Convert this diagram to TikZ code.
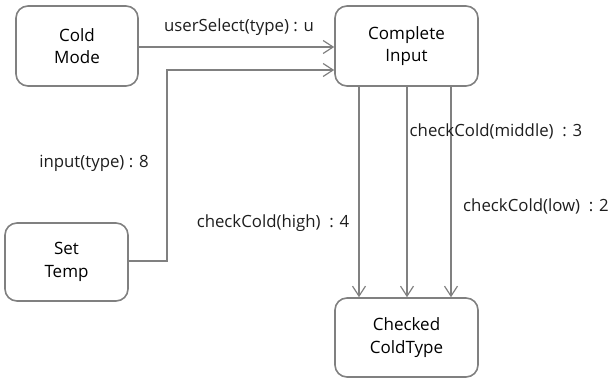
\documentclass[tikz,border=0pt]{standalone}
\usepackage{fontspec}
\setmainfont{Open Sans}
\usetikzlibrary{arrows.meta,positioning}
\definecolor{edgegray}{RGB}{128,128,128}
\definecolor{labelink}{RGB}{30,30,30}
\tikzset{
  statebox/.style={draw=edgegray, line width=1.6pt, rounded corners=12pt,
    fill=white, align=center, inner sep=0pt, font=\fontsize{17}{22.5}\selectfont},
  flow/.style={draw=edgegray, line width=1.2pt,
    -{Straight Barb[length=10pt,width=13pt,line width=1.2pt]}},
  edgelabel/.style={text=labelink, inner sep=0pt, font=\fontsize{16.8}{20}\selectfont}
}
\begin{document}
\begin{tikzpicture}[x=1pt,y=-1pt]
  \useasboundingbox (0,0) rectangle (611,378);

  % states
  \node[statebox, minimum width=122pt, minimum height=80pt] (cold) at (77,46) {Cold\\Mode};
  \node[statebox, minimum width=143pt, minimum height=80pt] (complete) at (406.5,46) {Complete\\Input};
  \node[statebox, minimum width=123pt, minimum height=78pt] (settemp) at (66.5,262) {Set\\Temp};
  \node[statebox, minimum width=143pt, minimum height=79pt] (checked) at (406.5,337.5) {Checked\\ColdType};

  % bend point for the set-temp transition
  \coordinate (bend) at (167,70);

  % transitions
  \draw[flow] (cold.east |- 0,47) -- (complete.west |- 0,47);
  \draw[flow] (settemp.east |- 0,261) -| (bend) -- (complete.west |- bend);
  \draw[flow] (complete.south -| 359,0) -- (checked.north -| 359,0);
  \draw[flow] (complete.south -| 407,0) -- (checked.north -| 407,0);
  \draw[flow] (complete.south -| 451,0) -- (checked.north -| 451,0);

  % transition labels
  \node[edgelabel] (lsel) at (239,27) {userSelect(type) : u};
  \node[edgelabel] (linp) at (94,163) {input(type) : 8};
  \node[edgelabel] (lhigh) at (273,223) {checkCold(high)\ \ : 4};
  \node[edgelabel] (lmid) at (496,131) {checkCold(middle)\ \ : 3};
  \node[edgelabel] (llow) at (536,206) {checkCold(low)\ \ : 2};
\end{tikzpicture}
\end{document}
